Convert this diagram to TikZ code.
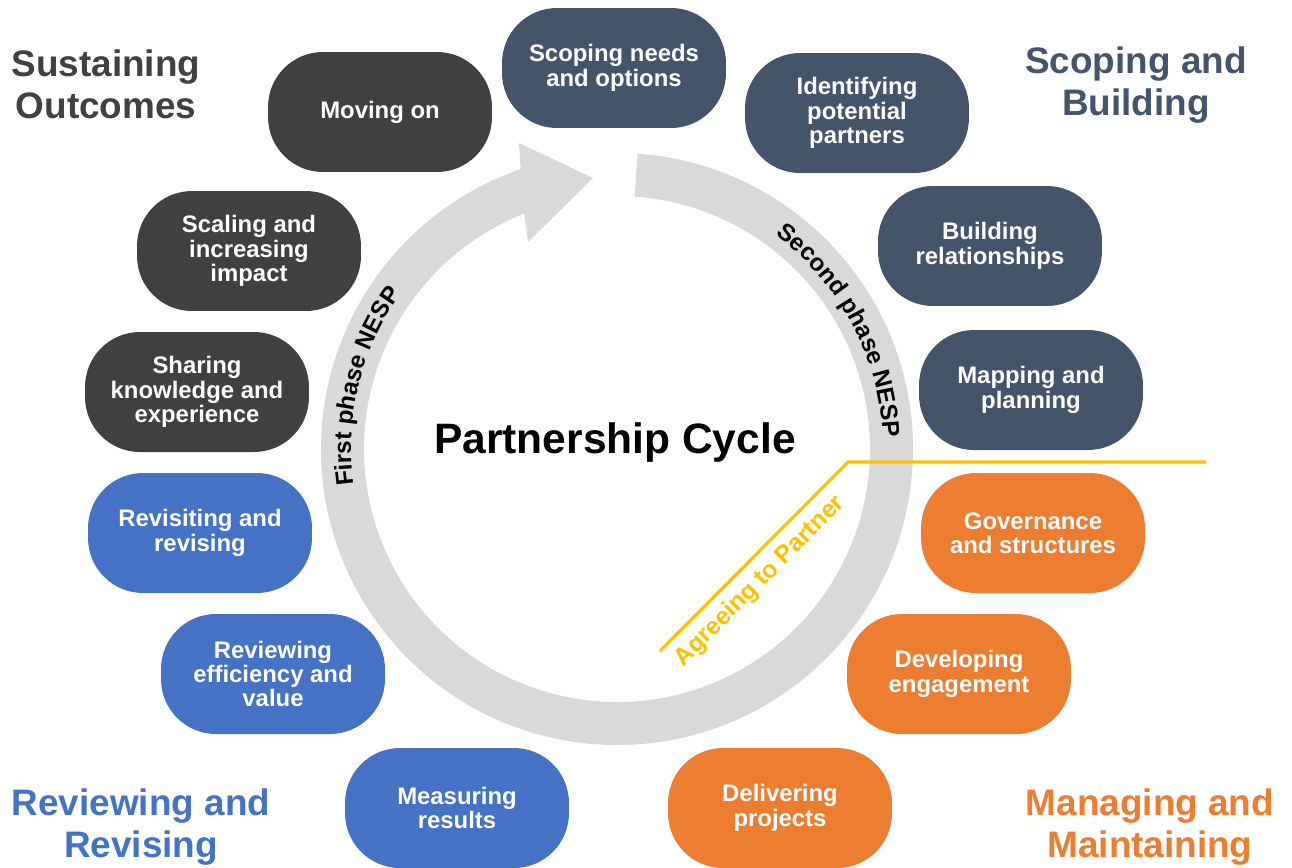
\documentclass[tikz,border=0pt]{standalone}
\usepackage{fontspec}
\setmainfont{Liberation Sans}
\usetikzlibrary{decorations.text}
\definecolor{slate}{HTML}{44546A}
\definecolor{charcoal}{HTML}{404040}
\definecolor{steel}{HTML}{4472C4}
\definecolor{amber}{HTML}{ED7D31}
\definecolor{gold}{HTML}{FFC000}
\definecolor{ringgray}{HTML}{D9D9D9}
\newcommand\ringfont{\fontsize{13.8pt}{14pt}\selectfont\bfseries}
\begin{document}
\begin{tikzpicture}[x=0.02cm, y=0.02cm, font=\bfseries,
stage/.style={rounded corners=1.1cm, minimum width=4.48cm, minimum height=2.4cm,
    align=center, text=white, inner sep=0pt, font=\fontsize{13.6pt}{13.9pt}\selectfont\bfseries},
build/.style={stage, fill=slate},
manage/.style={stage, fill=amber},
review/.style={stage, fill=steel},
sustain/.style={stage, fill=charcoal},
heading/.style={align=center, font=\fontsize{21pt}{23.8pt}\selectfont\bfseries}]
\useasboundingbox (0,0) rectangle (1292,-867);
\begin{scope}[shift={(617,-449)}]
\fill[ringgray] (86:296) arc[start angle=86, end angle=-251, radius=296]
  -- (-98,306) -- (-24,271) -- (-89,207) -- (-248.5:253)
  arc[start angle=-248.5, end angle=86, radius=253] -- cycle;
\path[decorate, decoration={text along path, text align=center,
  text={|\ringfont|First phase NESP}}] (208:266) arc[start angle=208, end angle=124, radius=266];
\path[decorate, decoration={text along path, text align=center,
  text={|\ringfont|Second phase NESP}}] (71:266) arc[start angle=71, end angle=-15, radius=266];
\end{scope}
\node[font=\fontsize{24.2pt}{26pt}\selectfont\bfseries] (cycle) at (615,-442) {Partnership Cycle};
\node[build] (scoping) at (614,-68) {Scoping needs\\and options};
\node[build] (identifying) at (857,-113) {Identifying\\potential\\partners};
\node[build] (building) at (990,-246) {Building\\relationships};
\node[build] (mapping) at (1031,-390) {Mapping and\\planning};
\node[manage] (governance) at (1033,-533) {Governance\\and structures};
\node[manage] (developing) at (959,-674) {Developing\\engagement};
\node[manage] (delivering) at (780,-808) {Delivering\\projects};
\node[review] (measuring) at (457,-808) {Measuring\\results};
\node[review] (reviewing) at (273,-674) {Reviewing\\efficiency and\\value};
\node[review] (revisiting) at (200,-533) {Revisiting and\\revising};
\node[sustain] (sharing) at (197,-392) {Sharing\\knowledge and\\experience};
\node[sustain] (scaling) at (249,-251) {Scaling and\\increasing\\impact};
\node[sustain] (moving) at (380,-112) {Moving on};
\node[heading, text=charcoal] (sustaining) at (106,-84) {Sustaining\\Outcomes};
\node[heading, text=slate] (scopinghead) at (1136,-85) {Scoping and\\Building};
\node[heading, text=steel] (reviewinghead) at (141,-827) {Reviewing and\\Revising};
\node[heading, text=amber] (managinghead) at (1150,-827) {Managing and\\Maintaining};
\coordinate (agree start) at (660,-651);
\coordinate (agree bend) at (848,-462);
\coordinate (agree end) at (1206,-462);
\draw[gold, line width=1.8pt] (agree start) -- node[sloped, below, pos=0.45, inner sep=5pt,
  font=\fontsize{14pt}{15pt}\selectfont\bfseries] (agree) {Agreeing to Partner} (agree bend) -- (agree end);
\end{tikzpicture}
\end{document}
